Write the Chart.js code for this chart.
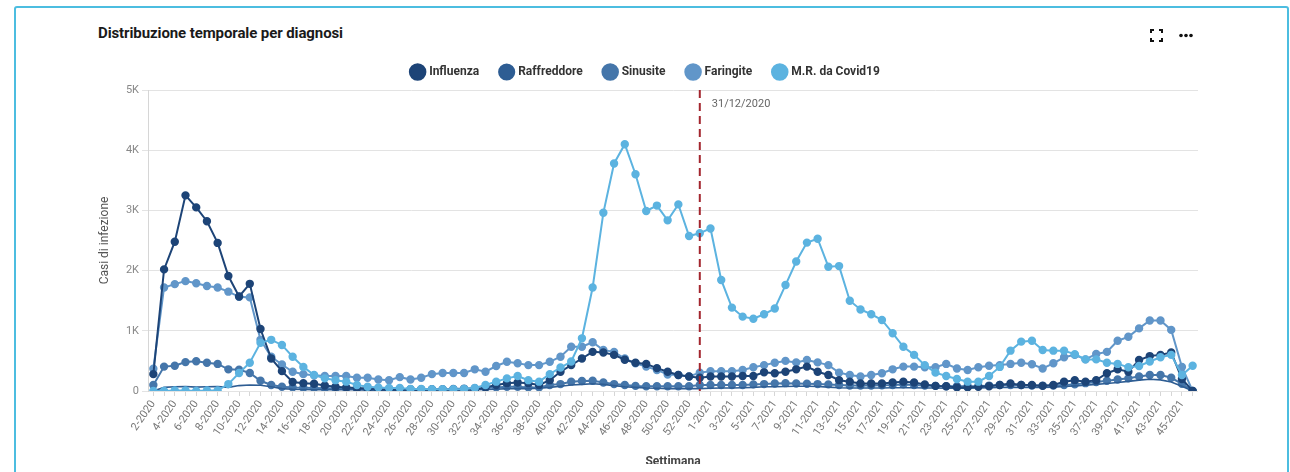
<!DOCTYPE html>
<html>
<head>
<meta charset="utf-8">
<script src="https://cdn.jsdelivr.net/npm/chart.js@4.4.1/dist/chart.umd.min.js"></script>
<style>
  html, body { margin: 0; padding: 0; width: 1290px; height: 472px; overflow: hidden; background: #fff; font-family: Roboto, "Open Sans", sans-serif; }
  #card { position: absolute; left: 14px; top: 6px; width: 1271px; height: 520px; border: 2px solid #4cbde0; border-radius: 3px; background: #fff; }
  #title { position: absolute; left: 98px; top: 24px; font: bold 15px Roboto, sans-serif; color: #1a1a1a; letter-spacing: -0.1px; }
  #icons { position: absolute; left: 1150px; top: 29px; }
  #wrap { position: absolute; left: 0; top: 0; width: 1290px; height: 495px; }
  #mask { position: absolute; left: 16px; top: 464px; width: 1269px; height: 20px; background: #fff; }
</style>
</head>
<body>
<div id="card"></div>
<div id="title">Distribuzione temporale per diagnosi</div>
<svg id="icons" width="50" height="14" viewBox="0 0 50 14">
  <g fill="none" stroke="#111" stroke-width="2">
    <path d="M1 4 V1 H4"/><path d="M9 1 H12 V4"/><path d="M12 9 V12 H9"/><path d="M4 12 H1 V9"/>
  </g>
  <g fill="#111"><circle cx="31" cy="6.5" r="1.8"/><circle cx="36" cy="6.5" r="1.8"/><circle cx="41" cy="6.5" r="1.8"/></g>
</svg>
<div id="wrap"><canvas id="c" width="1290" height="495"></canvas></div>
<div id="mask"></div>
<script>
// ---- Data ----
const weeks2020 = [];
for (let w = 2; w <= 53; w++) weeks2020.push(w + '-2020');
const weeks2021 = [];
for (let w = 1; w <= 46; w++) weeks2021.push(w + '-2021');
const categories = weeks2020.concat(weeks2021);

const influenza = [280,2020,2480,3250,3050,2820,2460,1910,1570,1780,1030,540,330,150,130,120,90,70,60,50,40,30,20,20,20,20,20,20,20,20,20,60,100,130,140,130,100,180,320,430,540,650,640,600,520,470,450,380,320,265,240,220,
  240,240,240,250,250,310,295,320,360,405,320,265,180,155,125,125,125,140,155,140,110,85,80,60,60,70,80,100,125,100,100,85,100,155,180,155,180,295,360,320,515,580,600,640,200,0];
const raffreddore = [0,60,70,75,65,70,75,60,90,100,95,70,40,30,25,20,20,20,20,20,15,15,15,15,15,15,15,15,15,20,20,25,30,40,40,40,45,60,80,100,110,120,110,90,70,60,50,45,40,40,40,40,
  45,50,50,55,60,70,70,75,80,80,75,65,55,50,50,50,50,55,55,55,50,50,45,45,45,50,55,60,60,60,60,60,65,75,85,95,110,125,140,160,180,195,185,150,80,0];
const sinusite = [100,405,420,480,495,470,450,360,355,300,170,100,70,60,55,50,45,40,40,35,30,30,30,30,30,30,30,30,35,40,45,50,60,70,70,60,60,100,115,155,165,170,140,115,100,85,80,80,80,80,80,100,
  100,100,100,100,110,115,125,130,125,120,115,110,100,90,90,90,95,100,110,100,90,85,80,80,80,80,90,100,100,100,90,90,90,100,110,130,150,170,190,210,240,265,265,220,120,0];
const faringite = [370,1720,1775,1825,1790,1745,1720,1650,1565,1555,850,570,440,320,280,260,250,250,250,220,220,190,180,230,190,220,280,300,300,300,360,320,415,485,460,430,430,485,570,735,735,810,680,650,540,460,405,350,275,265,240,305,
  330,330,330,350,395,430,470,500,475,515,475,430,305,265,240,265,295,360,405,405,395,395,450,375,350,395,420,430,450,470,445,375,460,560,600,525,615,650,835,900,1040,1170,1170,1015,400,0];
const covid = [0,0,10,10,0,10,10,115,300,470,800,850,765,570,400,265,210,180,155,100,70,60,50,50,35,35,30,30,30,35,50,100,155,210,250,180,155,280,390,490,875,1720,2960,3780,4100,3600,2990,3080,2835,3100,2575,2620,
  2700,1845,1385,1235,1200,1275,1370,1760,2150,2465,2530,2065,2075,1500,1355,1275,1180,960,735,600,430,305,250,200,155,155,250,400,670,820,835,680,670,670,610,525,525,470,450,395,415,490,560,600,265,420];

const seriesNames = ['Influenza','Raffreddore','Sinusite','Faringite','M.R. da Covid19'];
const yTicks = [0,1000,2000,3000,4000,5000];
const markerCategory = '53-2020';
const markerLabel = '31/12/2020';

// ---- Styles ----
const colors = ['#1d4477','#2e5d93','#4576aa','#6196c9','#5cb3e0'];
const seriesData = [influenza, raffreddore, sinusite, faringite, covid];

const datasets = seriesNames.map((name, i) => ({
  label: name,
  data: seriesData[i],
  borderColor: colors[i],
  backgroundColor: colors[i],
  pointBackgroundColor: colors[i],
  pointBorderColor: colors[i],
  borderWidth: i === 1 ? 1.6 : 2,
  pointRadius: i === 1 ? 0 : 3.2,
  pointHoverRadius: 4,
  tension: 0,
  fill: false,
  order: i === 4 ? 0 : (i === 0 ? 1 : 2)
}));

const markerPlugin = {
  id: 'marker',
  afterDatasetsDraw(chart) {
    const x = chart.scales.x.getPixelForValue(categories.indexOf(markerCategory));
    const { top, bottom } = chart.chartArea;
    const ctx = chart.ctx;
    ctx.save();
    ctx.strokeStyle = '#a3262e';
    ctx.lineWidth = 2;
    ctx.setLineDash([8, 5]);
    ctx.beginPath();
    ctx.moveTo(x, top);
    ctx.lineTo(x, bottom);
    ctx.stroke();
    ctx.setLineDash([]);
    ctx.fillStyle = '#666';
    ctx.font = '11px Roboto, sans-serif';
    ctx.textBaseline = 'middle';
    ctx.fillText(markerLabel, x + 12, top + 14);
    ctx.restore();
  }
};

const legendHeightPlugin = {
  id: 'legendHeight',
  beforeInit(chart) {
    const orig = chart.legend.fit;
    chart.legend.fit = function () {
      orig.bind(chart.legend)();
      this.height = 46;
    };
  }
};

new Chart(document.getElementById('c'), {
  type: 'line',
  data: { labels: categories, datasets },
  plugins: [legendHeightPlugin, markerPlugin],
  options: {
    responsive: false,
    animation: false,
    layout: { padding: { left: 94, right: 92, top: 44, bottom: 22 } },
    plugins: {
      legend: {
        position: 'top',
        labels: {
          usePointStyle: true,
          pointStyle: 'circle',
          boxWidth: 11,
          boxHeight: 11,
          padding: 22,
          color: '#333',
          font: { family: 'Roboto', size: 12, weight: 'bold' },
          sort: (a, b) => a.datasetIndex - b.datasetIndex
        }
      },
      tooltip: { enabled: false }
    },
    scales: {
      x: {
        type: 'category',
        offset: true,
        grid: { drawOnChartArea: false, drawTicks: true, tickLength: 5, color: '#d6d6d6' },
        border: { display: false },
        ticks: {
          autoSkip: false,
          minRotation: 55,
          maxRotation: 55,
          padding: 2,
          color: '#777',
          font: { family: 'Roboto', size: 11 },
          callback: function (value, index) { return index % 2 === 0 ? this.getLabelForValue(value) : ''; }
        },
        title: { display: true, text: 'Settimana', color: '#444', font: { family: 'Roboto', size: 12, weight: 'bold' }, padding: { top: 4, bottom: 4 } },
        afterFit(scale) { scale.height = 82; }
      },
      y: {
        min: 0,
        max: 5000,
        afterBuildTicks(scale) { scale.ticks = yTicks.map(v => ({ value: v })); },
        grid: { color: '#e3e3e3', tickLength: 6, lineWidth: 1 },
        border: { display: true, color: '#d6d6d6' },
        ticks: {
          padding: 3,
          color: '#888',
          font: { family: 'Roboto', size: 11 },
          callback: v => v === 0 ? '0' : (v / 1000) + 'K'
        },
        title: { display: true, text: 'Casi di infezione', color: '#555', font: { family: 'Roboto', size: 12 }, padding: { top: 4, bottom: 4 } },
        afterFit(scale) { scale.width = 54; }
      }
    }
  }
});
</script>
</body>
</html>
